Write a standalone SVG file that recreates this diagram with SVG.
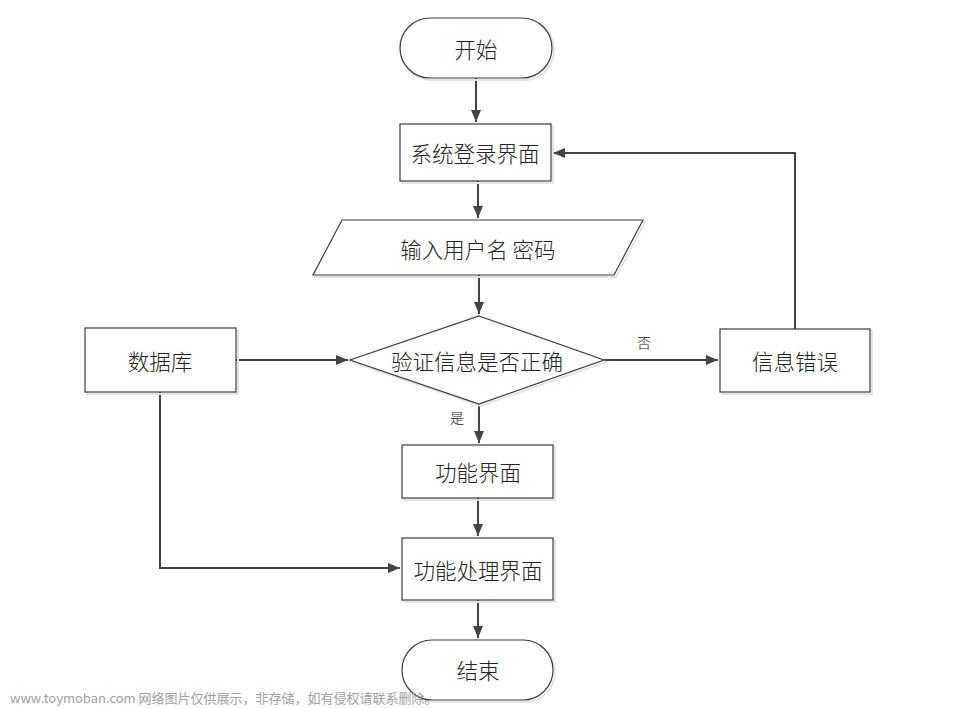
<svg xmlns="http://www.w3.org/2000/svg" width="967" height="708" viewBox="0 0 967 708">
<style>
.s{fill:#fff;stroke:#3c3c3c;stroke-width:1.2}
.sh{fill:none;stroke:#e4e4e4;stroke-width:2}
.t{font-family:"Noto Sans CJK SC","Noto Sans CJK TC",sans-serif;font-size:21.5px;font-weight:300;fill:#222;text-anchor:middle;dominant-baseline:central}
.l{font-family:"Noto Sans CJK SC",sans-serif;font-size:14px;font-weight:300;fill:#222;text-anchor:middle;dominant-baseline:central}
.c{fill:none;stroke:#444;stroke-width:2}
.wm{font-family:"Noto Sans CJK SC",sans-serif;font-size:13px;fill:#a0a0a0}
</style>
<defs>
<marker id="a" viewBox="0 0 12 10" refX="12" refY="5" markerWidth="12" markerHeight="10" markerUnits="userSpaceOnUse" orient="auto">
<path d="M0,0 L12,5 L0,10 Z" fill="#444"/>
</marker>
</defs>
<rect width="967" height="708" fill="#fff"/>
<g id="connectors">
<path class="c" d="M476,78 V122" marker-end="url(#a)"/>
<path class="c" d="M478,181 V218" marker-end="url(#a)"/>
<path class="c" d="M479,275 V314" marker-end="url(#a)"/>
<path class="c" d="M236,360 H348" marker-end="url(#a)"/>
<path class="c" d="M604,360 H718" marker-end="url(#a)"/>
<path class="c" d="M795,329 V153 H553" marker-end="url(#a)"/>
<path class="c" d="M479,404 V443" marker-end="url(#a)"/>
<path class="c" d="M478,498 V536" marker-end="url(#a)"/>
<path class="c" d="M160,392 V568 H400" marker-end="url(#a)"/>
<path class="c" d="M478,600 V638" marker-end="url(#a)"/>
<text class="l" x="644" y="342">否</text>
<text class="l" x="457" y="417">是</text>
</g>
<g id="start">
<rect class="sh" x="402" y="20" width="152" height="60" rx="30"/>
<rect class="s" x="400" y="18" width="152" height="60" rx="30"/>
<text class="t" x="476" y="48">开始</text>
</g>
<g id="login">
<rect class="sh" x="402" y="126" width="151" height="57"/>
<rect class="s" x="400" y="124" width="151" height="57"/>
<text class="t" x="475" y="152">系统登录界面</text>
</g>
<g id="input">
<polygon class="sh" points="345,222 645,222 616,277 315,277"/>
<polygon class="s" points="342,220 643,220 614,275 313,275"/>
<text class="t" x="478" y="248">输入用户名 密码</text>
</g>
<g id="verify">
<polygon class="sh" points="481,318 606,362 481,406 352,362"/>
<polygon class="s" points="479,316 604,360 479,404 350,360"/>
<text class="t" x="477" y="360">验证信息是否正确</text>
</g>
<g id="db">
<rect class="sh" x="87" y="330" width="151" height="64"/>
<rect class="s" x="85" y="328" width="151" height="64"/>
<text class="t" x="160" y="360">数据库</text>
</g>
<g id="error">
<rect class="sh" x="722" y="331" width="150" height="63"/>
<rect class="s" x="720" y="329" width="150" height="63"/>
<text class="t" x="795" y="360">信息错误</text>
</g>
<g id="func">
<rect class="sh" x="404" y="447" width="151" height="53"/>
<rect class="s" x="402" y="445" width="151" height="53"/>
<text class="t" x="478" y="471">功能界面</text>
</g>
<g id="process">
<rect class="sh" x="404" y="540" width="151" height="62"/>
<rect class="s" x="402" y="538" width="151" height="62"/>
<text class="t" x="478" y="569">功能处理界面</text>
</g>
<g id="end">
<rect class="sh" x="404" y="642" width="151" height="60" rx="30"/>
<rect class="s" x="402" y="640" width="151" height="60" rx="30"/>
<text class="t" x="478" y="669">结束</text>
</g>
<text class="wm" x="10" y="703">www.toymoban.com 网络图片仅供展示，非存储，如有侵权请联系删除。</text>
</svg>
